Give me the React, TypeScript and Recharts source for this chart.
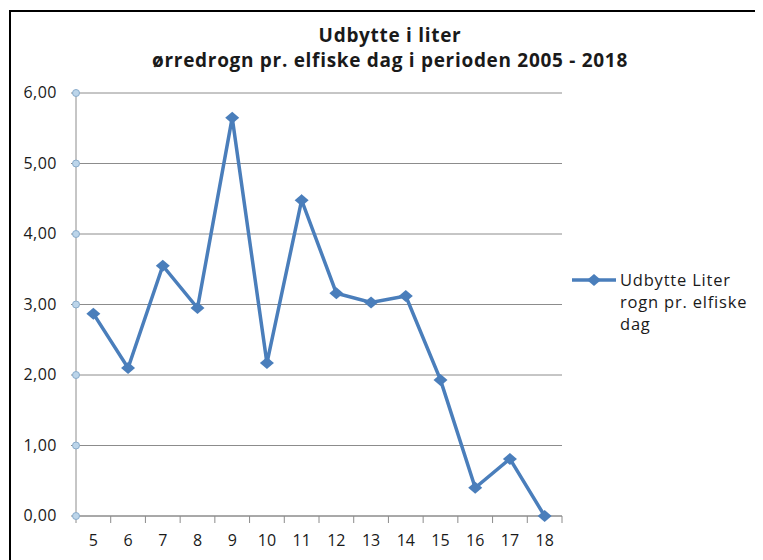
import { LineChart, Line, XAxis, YAxis, CartesianGrid, Legend } from 'recharts';

// Udbytte (liter ørredrogn pr. elfiske dag), 2005 - 2018
const periods = [5, 6, 7, 8, 9, 10, 11, 12, 13, 14, 15, 16, 17, 18];
const yieldLiters = [2.87, 2.1, 3.55, 2.95, 5.65, 2.17, 4.48, 3.16, 3.03, 3.12, 1.93, 0.4, 0.81, 0.0];
const yTicks = [0, 1, 2, 3, 4, 5, 6];
const seriesName = 'Udbytte Liter rogn pr. elfiske dag';

const data = periods.map((p, i) => ({ period: p, value: yieldLiters[i] }));

const BLUE = '#4a7ebb';
const GRID = '#8c8c8c';
const FONT = '"Open Sans", "Noto Sans", sans-serif';

const CHART_W = 755;
const CHART_H = 552;
const MARGIN = { top: 85, right: 201, bottom: 14, left: 0 };
const Y_W = 68;
const BAND = (CHART_W - MARGIN.left - MARGIN.right - Y_W) / periods.length;

function Diamond(props: any) {
  const { cx, cy } = props;
  if (cx == null || cy == null) return null;
  return (
    <polygon
      points={`${cx - 7},${cy} ${cx},${cy - 6} ${cx + 7},${cy} ${cx},${cy + 6}`}
      fill={BLUE}
    />
  );
}

function LeftTick(props: any) {
  const { x, y, payload } = props;
  return (
    <g>
      <line x1={x - 5} y1={y} x2={x} y2={y} stroke={GRID} />
      <circle cx={x} cy={y} r={3.5} fill="#bcd5ea" stroke="#8aaccb" strokeWidth={1} />
      <text
        x={x - 19}
        y={y}
        dy={5}
        textAnchor="end"
        fontSize={16}
        letterSpacing={0.5}
        fill="#1a1a1a"
        fontFamily={FONT}
      >
        {payload.value.toFixed(2).replace('.', ',')}
      </text>
    </g>
  );
}

function RightTick(props: any) {
  const { x, y } = props;
  return <circle cx={x} cy={y} r={3.5} fill="#bcd5ea" stroke="#8aaccb" strokeWidth={1} />;
}

function XTick(props: any) {
  const { x, y, payload, index } = props;
  const last = index === periods.length - 1;
  return (
    <g>
      <line x1={x - BAND / 2} y1={y} x2={x - BAND / 2} y2={y + 7} stroke={GRID} />
      {last && <line x1={x + BAND / 2} y1={y} x2={x + BAND / 2} y2={y + 7} stroke={GRID} />}
      <text x={x} y={y + 30} textAnchor="middle" fontSize={16} fill="#1a1a1a" fontFamily={FONT}>
        {payload.value}
      </text>
    </g>
  );
}

function LegendBox() {
  return (
    <div
      style={{
        display: 'flex',
        alignItems: 'flex-start',
        fontFamily: FONT,
        fontSize: 16.5,
        letterSpacing: 0.8,
        color: '#1a1a1a',
      }}
    >
      <svg width={48} height={22} style={{ flex: 'none' }}>
        <line x1={0} y1={11} x2={44} y2={11} stroke={BLUE} strokeWidth={3.5} />
        <Diamond cx={22} cy={11} />
      </svg>
      <div style={{ width: 136, lineHeight: '22px' }}>{seriesName}</div>
    </div>
  );
}

export default function App() {
  return (
    <div style={{ position: 'relative', width: CHART_W, height: CHART_H, overflow: 'hidden' }}>
      <div
        style={{
          position: 'absolute',
          left: 1,
          top: 2,
          width: 900,
          height: 700,
          border: '2px solid #000',
        }}
      />
      <div
        style={{
          position: 'absolute',
          left: 0,
          top: 15,
          width: 764,
          textAlign: 'center',
          fontFamily: FONT,
          fontWeight: 700,
          fontSize: 19,
          letterSpacing: 0.7,
          lineHeight: '25px',
          color: '#1a1a1a',
        }}
      >
        <div>Udbytte i liter</div>
        <div>ørredrogn pr. elfiske dag i perioden 2005 - 2018</div>
      </div>
      <div style={{ position: 'absolute', left: 0, top: 0 }}>
        <LineChart width={CHART_W} height={CHART_H} data={data} margin={MARGIN}>
          <CartesianGrid vertical={false} stroke={GRID} yAxisId="left" />
          <XAxis
            dataKey="period"
            type="number"
            domain={[4.5, 18.5]}
            ticks={periods}
            interval={0}
            axisLine={{ stroke: GRID }}
            tickLine={false}
            tickSize={0}
            tickMargin={0}
            height={30}
            tick={<XTick />}
          />
          <YAxis
            yAxisId="left"
            domain={[0, 6]}
            ticks={yTicks}
            interval={0}
            width={Y_W}
            axisLine={{ stroke: GRID }}
            tickLine={false}
            tickSize={0}
            tickMargin={0}
            tick={<LeftTick />}
          />
          <YAxis
            yAxisId="right"
            orientation="right"
            domain={[0, 6]}
            ticks={yTicks}
            interval={0}
            width={0}
            axisLine={false}
            tickLine={false}
            tickSize={0}
            tickMargin={0}
            tick={<RightTick />}
          />
          <Legend
            layout="horizontal"
            verticalAlign="middle"
            align="center"
            content={() => <LegendBox />}
            wrapperStyle={{ position: 'absolute', left: 564, top: 261, width: 190 }}
          />
          <Line
            yAxisId="left"
            dataKey="value"
            name={seriesName}
            stroke={BLUE}
            strokeWidth={3.5}
            dot={<Diamond />}
            activeDot={false}
            isAnimationActive={false}
          />
        </LineChart>
      </div>
    </div>
  );
}
